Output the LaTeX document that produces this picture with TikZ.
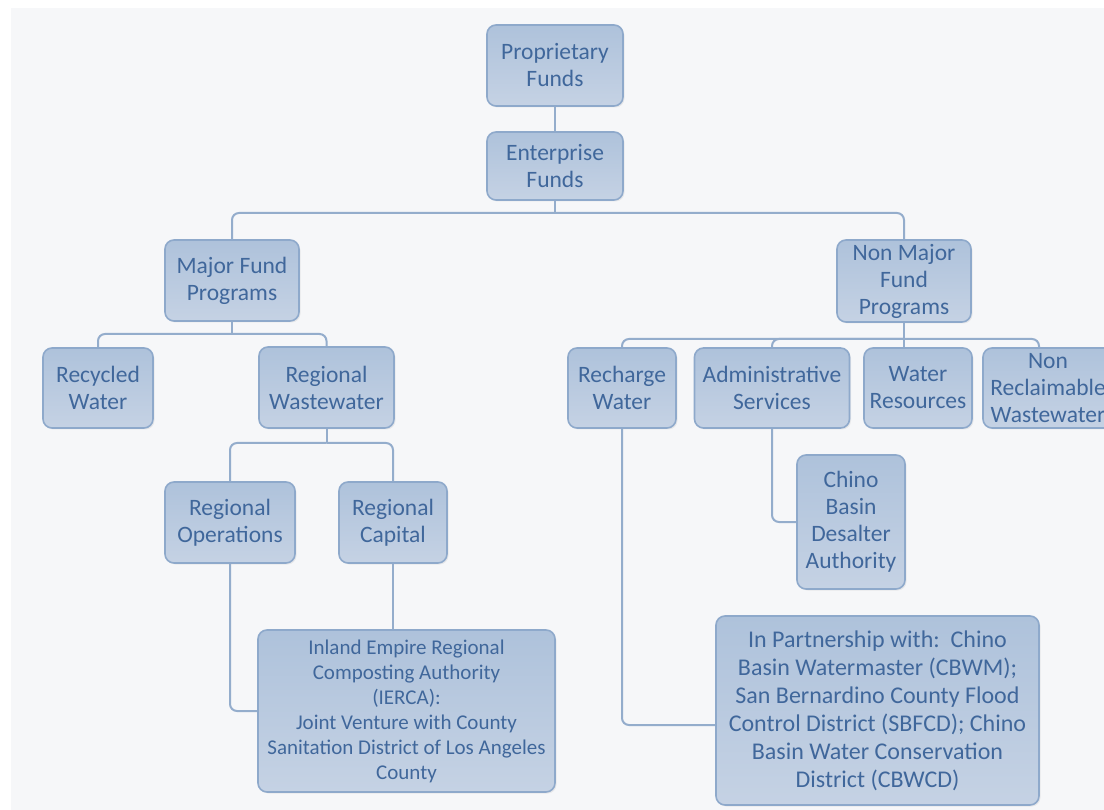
\documentclass[tikz,border=0pt]{standalone}
\usepackage{fontspec}
\setmainfont{Carlito}
\usetikzlibrary{shadows,calc}
\definecolor{bgc}{HTML}{F6F7F9}
\definecolor{boxtop}{HTML}{AEC2DB}
\definecolor{boxbot}{HTML}{C5D2E4}
\definecolor{boxedge}{HTML}{8EA9CB}
\definecolor{txtc}{HTML}{40679B}
\definecolor{linec}{HTML}{94ADCC}
\tikzset{
  orgbox/.style={draw=boxedge, line width=1.6pt, rounded corners=9pt,
    top color=boxtop, bottom color=boxbot, text=txtc, align=center,
    inner sep=2pt, font=\fontsize{23.5}{27}\selectfont,
    drop shadow={opacity=0.12, shadow xshift=1.5pt, shadow yshift=-1.5pt}},
  smalltext/.style={font=\fontsize{21}{25}\selectfont},
  midtext/.style={font=\fontsize{24}{28}\selectfont},
  conn/.style={draw=linec, line width=2pt, rounded corners=7pt}
}
\begin{document}
\begin{tikzpicture}[x=1pt, y=-1pt]
\useasboundingbox (0,0) rectangle (1104,810);
\clip (0,0) rectangle (1104,810);
\fill[bgc] (11,8) rectangle (1104,810);

% top of the hierarchy
\node[orgbox, minimum width=136pt, minimum height=81pt] (prop) at (555,65.5) {Proprietary\\Funds};
\node[orgbox, minimum width=136pt, minimum height=68pt] (ent) at (555,166) {Enterprise\\Funds};

% fund groups
\node[orgbox, minimum width=134pt, minimum height=81pt] (major) at (232,280.5) {Major Fund\\Programs};
\node[orgbox, minimum width=134pt, minimum height=82pt] (nonmajor) at (904,281) {Non Major\\Fund\\Programs};

% programs
\node[orgbox, minimum width=110pt, minimum height=80pt] (recycled) at (98,388) {Recycled\\Water};
\node[orgbox, minimum width=135pt, minimum height=81pt] (regww) at (326.5,387.5) {Regional\\Wastewater};
\node[orgbox, minimum width=108pt, minimum height=80pt] (recharge) at (622,388) {Recharge\\Water};
\node[orgbox, minimum width=155pt, minimum height=80pt] (admin) at (772,388) {Administrative\\Services};
\node[orgbox, minimum width=108pt, minimum height=80pt] (waterres) at (918,388) {Water\\Resources};
\node[orgbox, minimum width=130pt, minimum height=80pt] (nonrecl) at (1048,388) {Non\\Reclaimable\\Wastewater};

% sub-programs
\node[orgbox, minimum width=130pt, minimum height=81pt] (regops) at (230,522.5) {Regional\\Operations};
\node[orgbox, minimum width=108pt, minimum height=81pt] (regcap) at (393,522.5) {Regional\\Capital};
\node[orgbox, minimum width=108pt, minimum height=134pt] (chino) at (851,522) {Chino\\Basin\\Desalter\\Authority};

% partnerships
\node[orgbox, smalltext, minimum width=297pt, minimum height=162pt] (ierca) at (406.5,711)
  {Inland Empire Regional\\Composting Authority\\(IERCA):\\Joint Venture with County\\Sanitation District of Los Angeles\\County};
\node[orgbox, midtext, minimum width=323pt, minimum height=189pt] (partner) at (877.5,710.5)
  {In Partnership with:\ \ Chino\\Basin Watermaster (CBWM);\\San Bernardino County Flood\\Control District (SBFCD); Chino\\Basin Water Conservation\\District (CBWCD)};

% junction points of the branch lines
\coordinate (j1) at (555,213);
\coordinate (j2) at (232,334);
\coordinate (j3) at (904,339);
\coordinate (j4) at (326.5,443);

\draw[conn] (prop.south) -- (ent.north);
\draw[conn] (ent.south) -- (j1);
\draw[conn] (j1) -| (major.north);
\draw[conn] (j1) -| (nonmajor.north);

\draw[conn] (major.south) -- (j2);
\draw[conn] (j2) -| (recycled.north);
\draw[conn] (j2) -| (regww.north);

\draw[conn] (nonmajor.south) -- (j3) -- (j3 |- waterres.north);
\draw[conn] (j3) -| (recharge.north);
\draw[conn] (j3) -| (admin.north);
\draw[conn] (j3) -| ($(nonrecl.north)+(-9,0)$);

\draw[conn] (regww.south) -- (j4);
\draw[conn] (j4) -| (regops.north);
\draw[conn] (j4) -| (regcap.north);

\draw[conn] (regops.south) |- (ierca.west);
\draw[conn] (regcap.south) -- (regcap.south |- ierca.north);
\draw[conn] (admin.south) |- (chino.west);
\draw[conn] (recharge.south) |- ($(partner.west)+(0,14.5)$);
\end{tikzpicture}
\end{document}
